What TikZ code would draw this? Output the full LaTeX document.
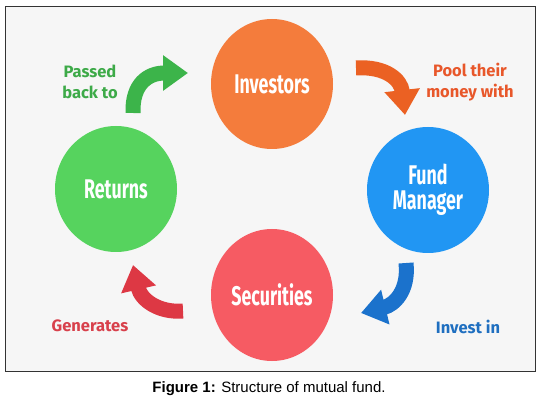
\documentclass[tikz,border=0pt]{standalone}
\usepackage{fontspec}
\setmainfont{Liberation Sans}
\newfontfamily\circfont[FakeStretch=0.66]{Fira Sans}
\newfontfamily\lblfont{Fira Sans}
\usetikzlibrary{arrows.meta,shapes.geometric}
\definecolor{invfill}{HTML}{F47C3C}
\definecolor{fmfill}{HTML}{2196F3}
\definecolor{retfill}{HTML}{56D35E}
\definecolor{secfill}{HTML}{F65B63}
\definecolor{grntxt}{HTML}{3DAA48}
\definecolor{orgtxt}{HTML}{E8572A}
\definecolor{redtxt}{HTML}{D8404B}
\definecolor{blutxt}{HTML}{1F6FC0}
\definecolor{grnarr}{HTML}{3CB44A}
\definecolor{orgarr}{HTML}{EB6123}
\definecolor{redarr}{HTML}{DD3844}
\definecolor{bluarr}{HTML}{1B72CC}
\definecolor{panel}{HTML}{F6F6F6}
\begin{document}
\begin{tikzpicture}[x=1pt,y=1pt,
  blob/.style={ellipse,minimum width=122pt,minimum height=126pt,inner sep=0pt,text=white,align=center,font=\circfont\bfseries\fontsize{27}{25}\selectfont},
  lbl/.style={align=center,font=\lblfont\bfseries\fontsize{16.5}{21}\selectfont},
  swoop/.style={line width=15pt,-{Triangle[length=25pt,width=34pt]}}]
\useasboundingbox (0,0) rectangle (542,-404);
% panel
\draw[draw=black!80,fill=panel,line width=0.8pt] (5,-6) rectangle (535,-371);
% circles
\node[blob,fill=invfill,minimum height=130pt] (inv) at (272,-84) {Investors};
\node[blob,fill=fmfill] (fm) at (428,-190) {Fund\\Manager};
\node[blob,fill=retfill] (ret) at (116,-189) {Returns};
\node[blob,fill=secfill,minimum height=132pt] (sec) at (272,-295) {Securities};
% labels
\node[lbl,text=grntxt] (passed) at (90,-82) {Passed\\back to};
\node[lbl,text=orgtxt] (pool) at (470,-82) {Pool their\\money with};
\node[lbl,text=redtxt] (gen) at (90,-326) {Generates};
\node[lbl,text=blutxt] (invin) at (468,-327) {Invest in};
% arrow ends
\coordinate (g0) at (133,-113); \coordinate (g1) at (188,-73);
\coordinate (o0) at (356,-68);  \coordinate (o1) at (405,-115);
\coordinate (b0) at (406,-263); \coordinate (b1) at (361,-313);
\coordinate (r0) at (183,-311); \coordinate (r1) at (133,-265);
% arrows
\draw[swoop,grnarr] (g0) .. controls (132,-84) and (148,-73) .. (g1);
\draw[swoop,orgarr] (o0) .. controls (386,-66) and (401,-80) .. (o1);
\draw[swoop,bluarr] (b0) .. controls (409,-291) and (394,-305) .. (b1);
\draw[swoop,redarr] (r0) .. controls (159,-313) and (141,-300) .. (r1);
% caption
\node[font=\fontsize{15}{18}\selectfont] (cap) at (269,-389) {\textbf{Figure 1:} Structure of mutual fund.};
\end{tikzpicture}
\end{document}
